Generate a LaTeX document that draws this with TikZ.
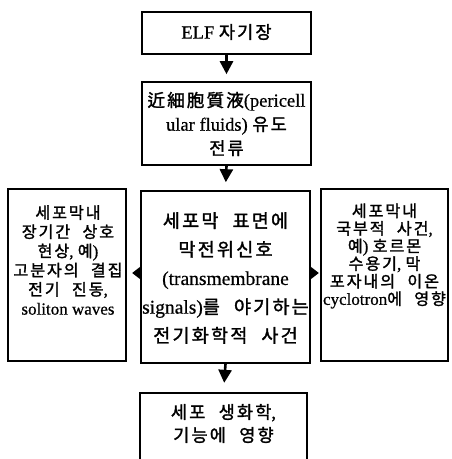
\documentclass[tikz,border=0pt]{standalone}
\usepackage{fontspec}
\setmainfont{Liberation Serif}[FakeBold=0.6]
\newfontfamily\kr[Scale=0.95,LetterSpace=12,WordSpace=2.2,FakeBold=1.6]{Noto Sans CJK KR}
\newcommand\K[1]{{\kr #1}}
\usetikzlibrary{arrows.meta}
\begin{document}
\begin{tikzpicture}[x=1pt,y=-1pt,
  box/.style={draw,line width=1.6pt,inner sep=0pt},
  txt/.style={align=center,inner sep=0pt},
  flow/.style={-{Triangle[length=13pt,width=13pt]},line width=2.6pt},
  sidetip/.style={fill=black}
]
\useasboundingbox (0,0) rectangle (452,459);
% boxes
\node[box,minimum width=169pt,minimum height=42pt] (b1) at (226.5,33) {};
\node[box,minimum width=169pt,minimum height=83pt] (b2) at (226.5,123.5) {};
\node[box,minimum width=169pt,minimum height=172pt] (cb) at (225.5,277) {};
\node[box,minimum width=118pt,minimum height=172pt] (lb) at (67,275) {};
\node[box,minimum width=127pt,minimum height=172pt] (rb) at (384.5,275) {};
\node[inner sep=0pt,minimum width=167pt,minimum height=74pt] (bot) at (223.5,430) {};
\draw[line width=1.6pt] (bot.south west) |- (bot.north east) -- (bot.south east);
% texts
\node[txt,font=\fontsize{18.5}{24}\selectfont] (t1) at (226.5,32) {ELF\ \K{자기장}};
\node[txt,font=\fontsize{18.5}{24}\selectfont] (t2) at (226.5,124) {\K{近細胞質液}(pericell\\ular fluids) \K{유도}\\\K{전류}};
\node[txt,font=\fontsize{19.5}{28.7}\selectfont] (tc) at (225.5,278) {\K{세포막 표면에}\\\K{막전위신호}\\(transmembrane\\signals)\K{를 야기하는}\\\K{전기화학적 사건}};
\node[txt,font=\fontsize{17}{19.2}\selectfont] (tl) at (68,260) {\K{세포막내}\\\K{장기간 상호}\\\K{현상}, \K{예})\\\K{고분자의 결집}\\\K{전기 진동},\\soliton waves};
\node[txt,font=\fontsize{17}{17.6}\selectfont] (tr) at (384.5,256) {\K{세포막내}\\\K{국부적 사건},\\\K{예}) \K{호르몬}\\\K{수용기}, \K{막}\\\K{포자내의 이온}\\cyclotron\K{에 영향}};
\node[txt,font=\fontsize{18.5}{23}\selectfont] (tb) at (223.5,423.5) {\K{세포 생화학},\\\K{기능에 영향}};
% arrows
\draw[flow,shorten >=7pt] (b1.south) -- (b2.north);
\draw[flow,shorten >=8pt] (b2.south) -- (cb.north);
\draw[flow,shorten >=10pt] (cb.south) -- (bot.north);
\fill[sidetip] ([yshift=4pt]cb.west) ++(1,-7) -- ++(0,14) -- ([yshift=4pt,xshift=-8pt]cb.west) -- cycle;
\fill[sidetip] ([yshift=4pt]cb.east) ++(-1,-7) -- ++(0,14) -- ([yshift=4pt,xshift=8pt]cb.east) -- cycle;
\end{tikzpicture}
\end{document}
